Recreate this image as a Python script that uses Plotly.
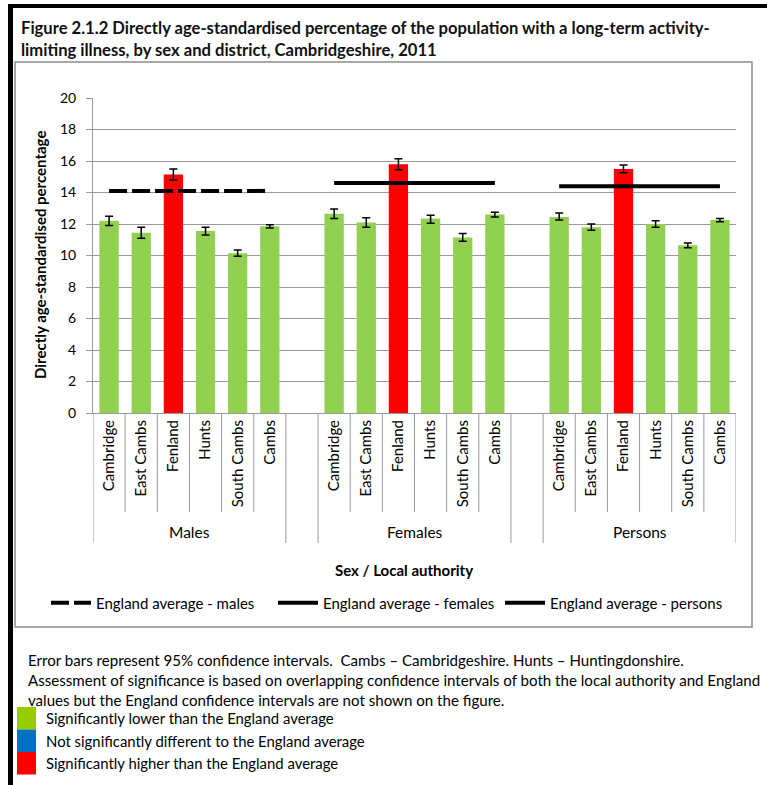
import plotly.graph_objects as go

# ---------------- data ----------------
districts = ["Cambridge", "East Cambs", "Fenland", "Hunts", "South Cambs", "Cambs"]
groups = ["Males", "Females", "Persons"]

males = [12.2, 11.45, 15.15, 11.55, 10.15, 11.85]
males_lo = [11.9, 11.1, 14.8, 11.3, 9.95, 11.75]
males_hi = [12.5, 11.8, 15.5, 11.8, 10.35, 11.95]

females = [12.65, 12.1, 15.8, 12.35, 11.15, 12.6]
females_lo = [12.35, 11.8, 15.45, 12.05, 10.9, 12.45]
females_hi = [12.95, 12.4, 16.15, 12.55, 11.4, 12.75]

persons = [12.45, 11.8, 15.5, 12.0, 10.65, 12.25]
persons_lo = [12.25, 11.6, 15.25, 11.8, 10.5, 12.15]
persons_hi = [12.7, 12.0, 15.75, 12.2, 10.8, 12.35]

significance = [
    ["lower", "lower", "higher", "lower", "lower", "lower"],
    ["lower", "lower", "higher", "lower", "lower", "lower"],
    ["lower", "lower", "higher", "lower", "lower", "lower"],
]

england = [14.1, 14.6, 14.4]
england_names = ["England average - males", "England average - females", "England average - persons"]
england_dash = ["18px,5px", "solid", "solid"]

y_ticks = [0, 2, 4, 6, 8, 10, 12, 14, 16, 18, 20]

sig_colors = {"lower": "#92D050", "same": "#0070C0", "higher": "#FF0000"}
key_colors = ["#99CC00", "#0070C0", "#FF0000"]
key_labels = [
    "Significantly lower than the England average",
    "Not significantly different to the England average",
    "Significantly higher than the England average",
]

title_lines = [
    "Figure 2.1.2 Directly age-standardised percentage of the population with a long-term activity-",
    "limiting illness, by sex and district, Cambridgeshire, 2011",
]
note_lines = [
    "Error bars represent 95% confidence intervals.  Cambs \u2013 Cambridgeshire. Hunts \u2013 Huntingdonshire.",
    "Assessment of significance is based on overlapping confidence intervals of both the local authority and England",
    "values but the England confidence intervals are not shown on the figure.",
]

# ---------------- geometry ----------------
W, H = 767, 785
PL, PR, PT, PB = 93, 736, 98, 413  # plot area in px


def px2x(px):
    return (px - PL) / (PR - PL)


def py2y(py):
    return (PB - py) / (PB - PT)


FONT = "Lato, 'Open Sans', sans-serif"
GRAY = "#9A9A9A"

values = [males, females, persons]
lows = [males_lo, females_lo, persons_lo]
highs = [males_hi, females_hi, persons_hi]

n = len(districts)
step = n + 1  # one empty slot between groups

xs, ys, cols, ep, em, tickvals, ticktext = [], [], [], [], [], [], []
for g in range(len(groups)):
    for i in range(n):
        pos = g * step + i
        xs.append(pos)
        v = values[g][i]
        ys.append(v)
        ep.append(highs[g][i] - v)
        em.append(v - lows[g][i])
        cols.append(sig_colors[significance[g][i]])
        tickvals.append(pos)
        ticktext.append(districts[i])

fig = go.Figure()
fig.add_trace(go.Bar(
    x=xs, y=ys, width=0.6,
    marker=dict(color=cols, line=dict(width=0)),
    error_y=dict(type="data", array=ep, arrayminus=em, visible=True,
                 color="black", thickness=1.5, width=4),
    showlegend=False, hoverinfo="x+y",
))

for g in range(len(groups)):
    x0 = g * step
    x1 = g * step + n - 1
    fig.add_trace(go.Scatter(
        x=[x0, x1], y=[england[g], england[g]], mode="lines",
        line=dict(color="black", width=4, dash=england_dash[g]),
        name=england_names[g], showlegend=True,
    ))

shapes = []
# separators below the axis
for g in range(len(groups)):
    for i in range(n + 1):
        xpos = g * step + i - 0.5
        outer = (i == 0 or i == n)
        shapes.append(dict(type="line", xref="x", yref="paper",
                           x0=xpos, x1=xpos, y0=0, y1=py2y(543 if outer else 512),
                           line=dict(color=GRAY, width=1)))

# chart box
shapes.append(dict(type="rect", xref="paper", yref="paper",
                   x0=px2x(15), x1=px2x(752), y0=py2y(62), y1=py2y(627),
                   line=dict(color="#8C8C8C", width=1.5), layer="below"))
# black page frame (top + left)
shapes.append(dict(type="rect", xref="paper", yref="paper",
                   x0=px2x(8), x1=px2x(767), y0=py2y(4), y1=py2y(8),
                   line=dict(width=0), fillcolor="black"))
shapes.append(dict(type="rect", xref="paper", yref="paper",
                   x0=px2x(8), x1=px2x(13), y0=py2y(4), y1=py2y(785),
                   line=dict(width=0), fillcolor="black"))
# significance key swatches
for k, c in enumerate(key_colors):
    shapes.append(dict(type="rect", xref="paper", yref="paper",
                       x0=px2x(17), x1=px2x(36), y0=py2y(707 + 22.5 * k), y1=py2y(729.5 + 22.5 * k),
                       line=dict(width=0), fillcolor=c))

annotations = []
for k, t in enumerate(title_lines):
    annotations.append(dict(text="<b>" + t + "</b>", xref="paper", yref="paper",
                            x=px2x(19), y=py2y(28 + 22 * k), xanchor="left", yanchor="middle",
                            showarrow=False, font=dict(family=FONT, size=16.6, color="#111")))
annotations.append(dict(text="<b>Directly age-standardised percentage</b>", xref="paper", yref="paper",
                        x=px2x(40), y=py2y(255), textangle=-90, xanchor="center", yanchor="middle",
                        showarrow=False, font=dict(family=FONT, size=15, color="black")))
for g, name in enumerate(groups):
    annotations.append(dict(text=name, xref="x", yref="paper",
                            x=g * step + (n - 1) / 2, y=py2y(532), xanchor="center", yanchor="middle",
                            showarrow=False, font=dict(family=FONT, size=15.5, color="black")))
annotations.append(dict(text="<b>Sex / Local authority</b>", xref="paper", yref="paper",
                        x=px2x(404), y=py2y(570), xanchor="center", yanchor="middle",
                        showarrow=False, font=dict(family=FONT, size=15, color="black")))
for k, t in enumerate(note_lines):
    annotations.append(dict(text=t, xref="paper", yref="paper",
                            x=px2x(26), y=py2y(660 + 20 * k), xanchor="left", yanchor="middle",
                            showarrow=False, font=dict(family=FONT, size=15.1, color="black")))
for k, t in enumerate(key_labels):
    annotations.append(dict(text=t, xref="paper", yref="paper",
                            x=px2x(44), y=py2y(718 + 22.5 * k), xanchor="left", yanchor="middle",
                            showarrow=False, font=dict(family=FONT, size=14.9, color="black")))

fig.update_layout(
    width=W, height=H,
    margin=dict(l=PL, r=W - PR, t=PT, b=H - PB, pad=0),
    paper_bgcolor="white", plot_bgcolor="white",
    font=dict(family=FONT, color="black"),
    bargap=0.4,
    xaxis=dict(range=[-0.5, len(groups) * step - 1.5], tickmode="array",
               tickvals=tickvals, ticktext=ticktext, tickangle=-90,
               tickfont=dict(family=FONT, size=15, color="black"),
               showgrid=False, zeroline=False, showline=True, linecolor=GRAY, linewidth=1,
               ticks="", fixedrange=True),
    yaxis=dict(range=[0, 20], tickmode="array", tickvals=y_ticks,
               tickfont=dict(family=FONT, size=14, color="black"),
               showgrid=True, gridcolor=GRAY, gridwidth=1, zeroline=False,
               showline=True, linecolor=GRAY, linewidth=1,
               ticks="outside", ticklen=6, tickcolor=GRAY, ticklabelstandoff=7,
               fixedrange=True),
    legend=dict(orientation="h", x=px2x(46), y=py2y(603), xanchor="left", yanchor="middle",
                font=dict(family=FONT, size=15, color="black"),
                entrywidth=172, entrywidthmode="pixels", bgcolor="rgba(0,0,0,0)",
                itemwidth=40, tracegroupgap=0),
    shapes=shapes,
    annotations=annotations,
)

fig.write_html("out.html")
